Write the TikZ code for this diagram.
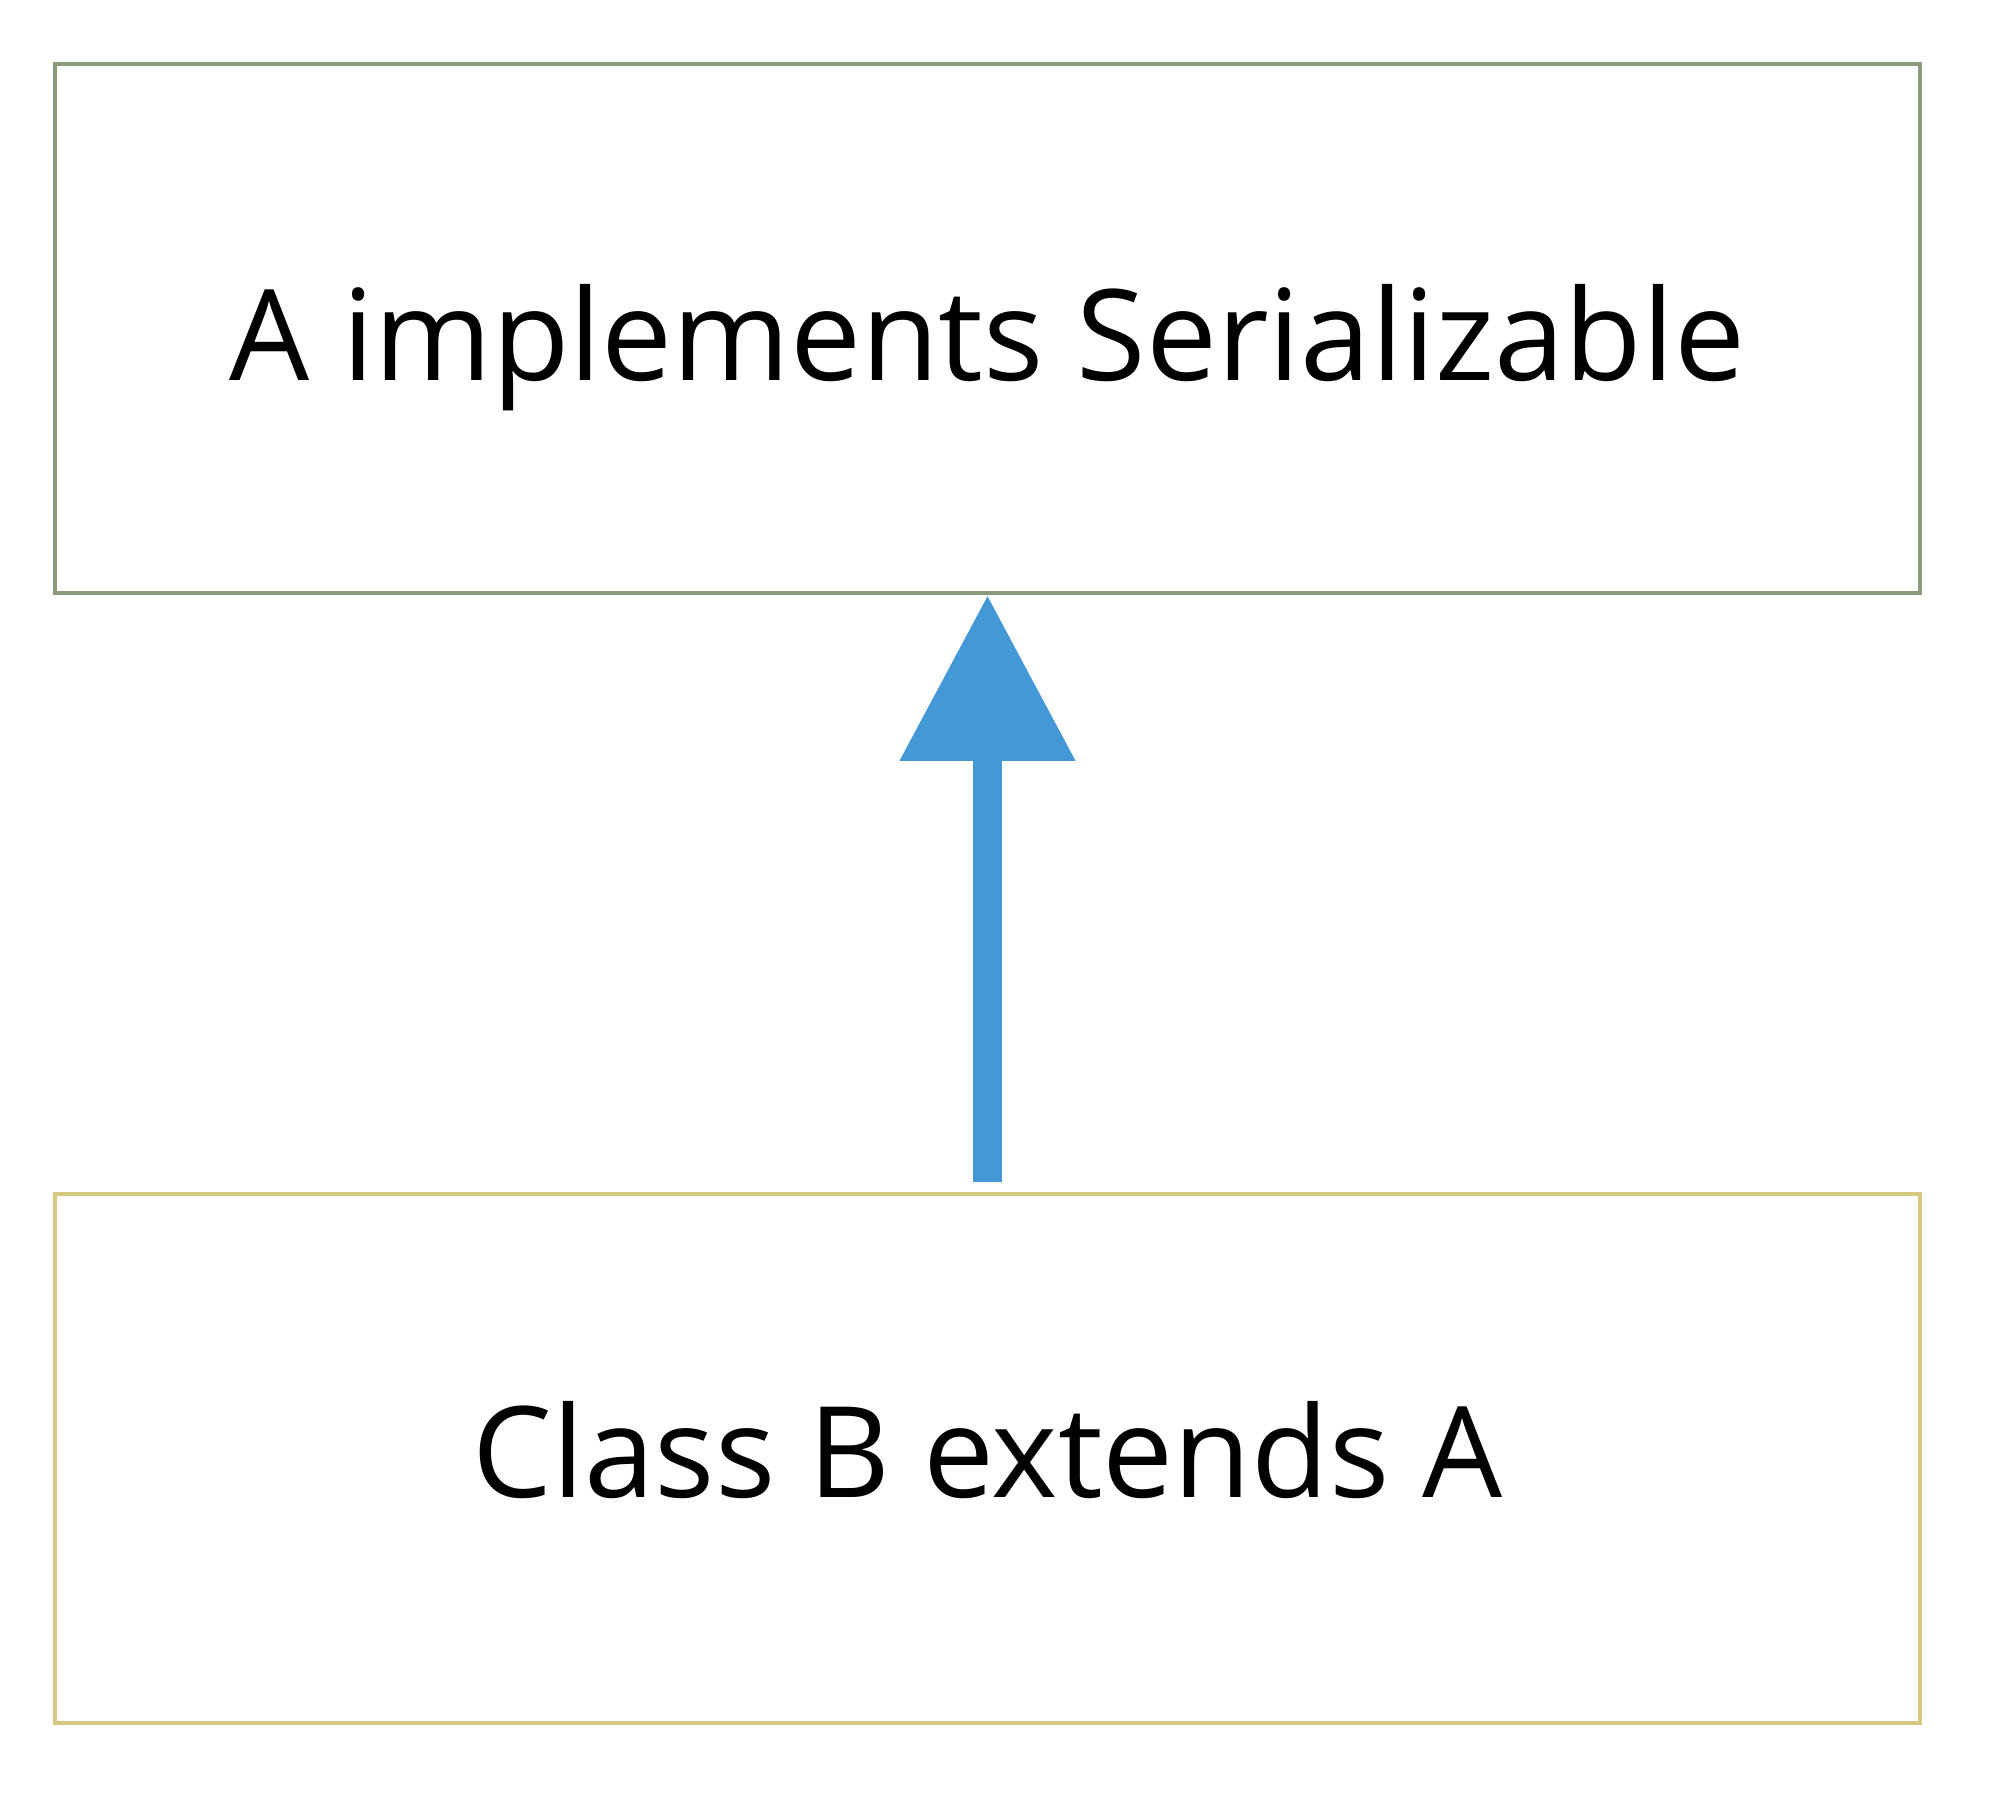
\documentclass[tikz,border=0pt]{standalone}
\usepackage{fontspec}
\setmainfont{Open Sans}
\usepackage{tikz}
\usetikzlibrary{arrows.meta, positioning}
\definecolor{boxgreen}{RGB}{138,154,122}
\definecolor{boxyellow}{RGB}{214,200,128}
\definecolor{arrowblue}{RGB}{68,152,214}

\begin{document}
\begin{tikzpicture}[
    classbox/.style={draw, minimum width=18.65cm, minimum height=5.29cm, align=center, line width=1.1pt, font=\fontsize{36}{43}\selectfont},
    inherit/.style={-{Triangle[width=1.68cm, length=1.66cm]}, line width=8.2pt, arrowblue},
]
  \useasboundingbox (0,0) rectangle (20,18.1);

  \node[classbox, draw=boxgreen] (parent) at (9.875, 14.815) {\raisebox{-0.19cm}[\height][\depth]{A implements Serializable}};

  \node[classbox, draw=boxyellow, below=5.97cm of parent] (child) {\raisebox{0.08cm}[\height][\depth]{Class B extends A}};

  \draw[inherit, shorten <=0.1cm] (child.north) -- (parent.south);
\end{tikzpicture}
\end{document}
